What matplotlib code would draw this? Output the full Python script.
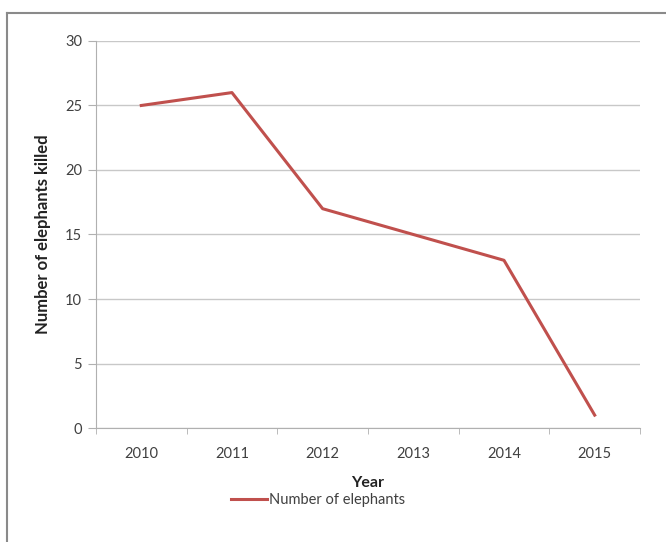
import matplotlib.pyplot as plt
from matplotlib.lines import Line2D

years = ["2010", "2011", "2012", "2013", "2014", "2015"]
killed = [25, 26, 17, 15, 13, 1]

plt.rcParams["font.family"] = ["Lato", "DejaVu Sans"]

fig = plt.figure(figsize=(6.66, 5.42), dpi=100)
ax = fig.add_axes([0.144, 0.2103, 0.817, 0.7141])

x = list(range(len(years)))
line, = ax.plot(x, killed, color="#C0504D", linewidth=2.2, label="Number of elephants")

ax.set_xlim(-0.5, len(years) - 0.5)
ax.set_ylim(0, 30)
ax.set_yticks(range(0, 31, 5))
ax.set_xticks(x)
ax.set_xticklabels(years)
ax.set_xticks([i - 0.5 for i in range(len(years) + 1)], minor=True)
ax.tick_params(axis="x", which="major", length=0, pad=14, labelsize=10.5, labelcolor="#404040")
ax.tick_params(axis="x", which="minor", length=4, color="#b0b0b0", direction="out")
ax.tick_params(axis="y", length=6, color="#b0b0b0", labelsize=10.5, labelcolor="#404040", pad=4)

ax.grid(axis="y", color="#c8c8c8", linewidth=1)
ax.set_axisbelow(True)
for side in ["top", "right"]:
    ax.spines[side].set_visible(False)
ax.spines["left"].set_color("#b0b0b0")
ax.spines["bottom"].set_color("#b0b0b0")

ax.set_xlabel("Year", fontsize=11.5, fontweight="bold", color="#222222")
ax.xaxis.set_label_coords(0.5, -0.125)
ax.set_ylabel("Number of elephants killed", fontsize=12, fontweight="bold",
              color="#222222")
ax.yaxis.set_label_coords(-0.082, 0.5)

fig.legend(handles=[line], loc="center", bbox_to_anchor=(0.477, 0.077), frameon=False,
           fontsize=10.5, handlelength=2.5, handletextpad=0.1, labelcolor="#404040")

# outer chart border (top and left edges visible)
fig.add_artist(Line2D([0.011, 1.0], [0.976, 0.976], transform=fig.transFigure,
                      color="#8a8a8a", linewidth=1.5))
fig.add_artist(Line2D([0.011, 0.011], [0.0, 0.976], transform=fig.transFigure,
                      color="#8a8a8a", linewidth=1.5))

fig.savefig("out.png", dpi=100)
